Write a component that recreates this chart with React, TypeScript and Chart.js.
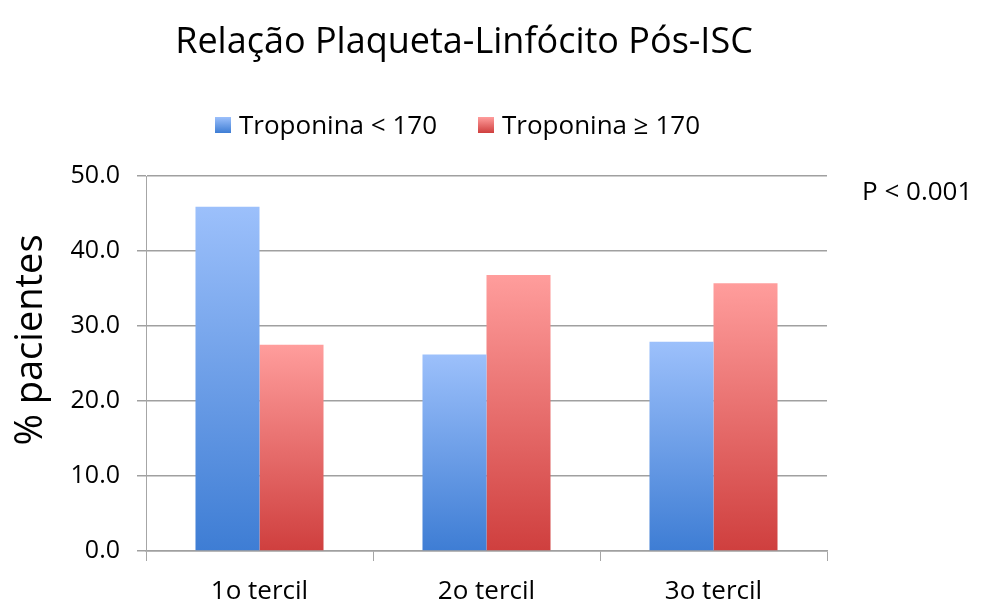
import React, { useEffect, useRef } from "react";
import { Chart, registerables } from "chart.js";

Chart.register(...registerables);

const categories = ["1o tercil", "2o tercil", "3o tercil"];
const seriesNames = ["Troponina < 170", "Troponina ≥ 170"];
const lowTroponin = [45.9, 26.2, 27.9];
const highTroponin = [27.5, 36.8, 35.7];
const yTicks = [0, 10, 20, 30, 40, 50];
const titleText = "Relação Plaqueta-Linfócito Pós-ISC";
const yTitleText = "% pacientes";
const pText = "P < 0.001";

const blueStops = ["#9cc0fb", "#3e7dd4"];
const redStops = ["#ff9d9c", "#cf3f3e"];
const FONT = "'Open Sans', 'Noto Sans', sans-serif";

function gradientFor(stops: string[]) {
  return (ctx: any) => {
    const chart = ctx.chart;
    const y = chart.scales && chart.scales.y;
    if (!y || ctx.raw === undefined) return stops[1];
    const top = y.getPixelForValue(ctx.raw);
    const bottom = y.getPixelForValue(0);
    if (!isFinite(top) || !isFinite(bottom) || top === bottom) return stops[1];
    const g = chart.ctx.createLinearGradient(0, top, 0, bottom);
    g.addColorStop(0, stops[0]);
    g.addColorStop(1, stops[1]);
    return g;
  };
}

const decorPlugin = {
  id: "decor",
  afterDraw(chart: any) {
    const ctx = chart.ctx;
    ctx.save();
    ctx.fillStyle = "#000";
    // Title
    ctx.font = `36px ${FONT}`;
    ctx.textBaseline = "alphabetic";
    ctx.textAlign = "center";
    ctx.fillText(titleText, 464, 53);

    // Legend
    const items = [
      { x: 215, color: blueStops, label: seriesNames[0] },
      { x: 478, color: redStops, label: seriesNames[1] },
    ];
    ctx.font = `26px ${FONT}`;
    ctx.textAlign = "left";
    ctx.textBaseline = "middle";
    items.forEach((it) => {
      const g = ctx.createLinearGradient(0, 117, 0, 133);
      g.addColorStop(0, it.color[0]);
      g.addColorStop(1, it.color[1]);
      ctx.fillStyle = g;
      ctx.fillRect(it.x, 117, 16, 16);
      ctx.fillStyle = "#000";
      ctx.fillText(it.label, it.x + 24, 127);
    });

    // P value
    ctx.font = `26px ${FONT}`;
    ctx.textAlign = "left";
    ctx.textBaseline = "middle";
    ctx.fillText(pText, 862, 193);

    // Y title
    ctx.translate(31, 340);
    ctx.rotate(-Math.PI / 2);
    ctx.font = `38px ${FONT}`;
    ctx.textAlign = "center";
    ctx.textBaseline = "middle";
    ctx.fillText(yTitleText, 0, 0);
    ctx.restore();
  },
};

export default function App() {
  const ref = useRef<HTMLCanvasElement | null>(null);
  useEffect(() => {
    if (!ref.current) return;
    const chart = new Chart(ref.current, {
      type: "bar",
      data: {
        labels: categories,
        datasets: [
          {
            label: seriesNames[0],
            data: lowTroponin,
            backgroundColor: gradientFor(blueStops) as any,
            borderWidth: 0,
          },
          {
            label: seriesNames[1],
            data: highTroponin,
            backgroundColor: gradientFor(redStops) as any,
            borderWidth: 0,
          },
        ],
      },
      options: {
        animation: false,
        responsive: false,
        maintainAspectRatio: false,
        layout: { padding: { top: 176, right: 162, left: 0, bottom: 0 } },
        plugins: {
          legend: { display: false },
          title: { display: false },
          tooltip: { enabled: false },
        },
        datasets: {
          bar: { categoryPercentage: 0.564, barPercentage: 1 },
        },
        scales: {
          x: {
            grid: {
              offset: true,
              drawOnChartArea: false,
              drawTicks: true,
              tickLength: 10,
              color: "#a6a6a6",
              lineWidth: 1,
            },
            border: { display: true, color: "#a0a0a0", width: 1.5 },
            ticks: {
              color: "#000",
              font: { family: FONT, size: 26 },
              padding: 15,
              maxRotation: 0,
            },
            afterFit: (s: any) => {
              s.height = 53;
            },
          },
          y: {
            min: 0,
            max: 50,
            afterBuildTicks: (s: any) => {
              s.ticks = yTicks.map((v) => ({ value: v }));
            },
            grid: {
              color: "#a0a0a0",
              lineWidth: 1.5,
              tickLength: 9,
              drawTicks: true,
            },
            border: { display: true, color: "#a6a6a6", width: 1 },
            ticks: {
              color: "#000",
              font: { family: FONT, size: 25 },
              padding: 17,
              callback: (v: any) => Number(v).toFixed(1),
            },
            afterFit: (s: any) => {
              s.width = 146;
            },
          },
        },
      },
      plugins: [decorPlugin],
    });
    return () => chart.destroy();
  }, []);
  return (
    <div style={{ position: "fixed", left: 0, top: 0, width: 989, height: 604, background: "#fff" }}>
      <canvas ref={ref} width={989} height={604} style={{ width: 989, height: 604 }} />
    </div>
  );
}
